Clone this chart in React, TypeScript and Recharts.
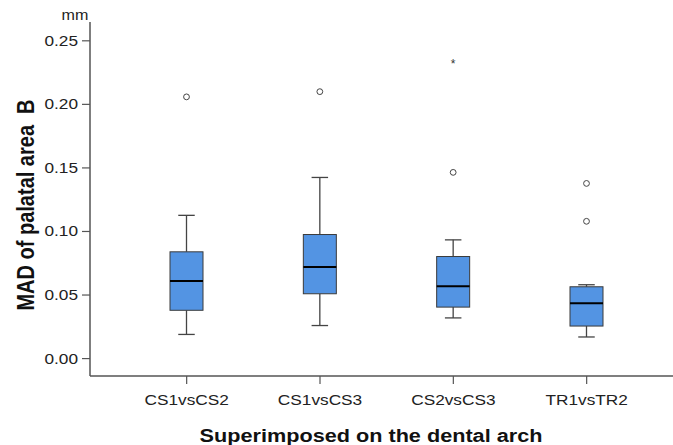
import { ComposedChart, Bar, XAxis, YAxis } from 'recharts'

const categories = ['CS1vsCS2', 'CS1vsCS3', 'CS2vsCS3', 'TR1vsTR2']
const whiskerLow = [0.019, 0.026, 0.032, 0.017]
const quartile1 = [0.038, 0.051, 0.0405, 0.0256]
const medians = [0.061, 0.072, 0.057, 0.0436]
const quartile3 = [0.084, 0.0976, 0.0803, 0.0565]
const whiskerHigh = [0.1127, 0.1425, 0.0934, 0.0581]
const outliers = [[0.2059], [0.21], [0.1465], [0.1378, 0.108]]
const extremes: number[][] = [[], [], [0.2323], []]
const yTicks = [0, 0.05, 0.1, 0.15, 0.2, 0.25]

const rows = categories.map((name, i) => ({
  name,
  box: [quartile1[i], quartile3[i]],
  low: whiskerLow[i],
  q1: quartile1[i],
  med: medians[i],
  q3: quartile3[i],
  high: whiskerHigh[i],
  outliers: outliers[i],
  extremes: extremes[i],
}))

const FONT = '"Liberation Sans", Arial, Helvetica, sans-serif'
// the source picture is a little wider than tall, so the text is stretched sideways
const STRETCH = 1.15

function BoxShape(props: any) {
  const { x, y, width, height, payload } = props
  const top = Math.min(y, y + height)
  const bottom = Math.max(y, y + height)
  // pixels per unit, taken from the box the library placed
  const k = (bottom - top) / (payload.q3 - payload.q1)
  const yOf = (v: number) => top + (payload.q3 - v) * k
  const cx = x + width / 2
  const cap = width / 4
  const line = '#444'

  return (
    <g>
      <line x1={cx} x2={cx} y1={yOf(payload.high)} y2={top} stroke={line} strokeWidth={1.3} />
      <line x1={cx} x2={cx} y1={bottom} y2={yOf(payload.low)} stroke={line} strokeWidth={1.3} />
      <line x1={cx - cap} x2={cx + cap} y1={yOf(payload.high)} y2={yOf(payload.high)} stroke={line} strokeWidth={1.3} />
      <line x1={cx - cap} x2={cx + cap} y1={yOf(payload.low)} y2={yOf(payload.low)} stroke={line} strokeWidth={1.3} />
      <rect x={x} y={top} width={width} height={bottom - top} fill="#5394E3" stroke="#3a3a3a" strokeWidth={1} />
      <line x1={x} x2={x + width} y1={yOf(payload.med)} y2={yOf(payload.med)} stroke="#000" strokeWidth={2} />
      {payload.outliers.map((v: number, i: number) => (
        <circle key={'o' + i} cx={cx} cy={yOf(v)} r={2.9} fill="#fff" stroke={line} strokeWidth={1} />
      ))}
      {payload.extremes.map((v: number, i: number) => (
        <text key={'e' + i} x={cx} y={yOf(v) + 5} textAnchor="middle" fontSize={12} fontFamily={FONT} fill="#333">
          *
        </text>
      ))}
    </g>
  )
}

function XTick(props: any) {
  const { x, y, payload } = props
  return (
    <text
      transform={`translate(${x},${y}) scale(${STRETCH},1)`}
      dy={10}
      textAnchor="middle"
      fontSize={15}
      fontFamily={FONT}
      fill="#222"
    >
      {payload.value}
    </text>
  )
}

function YTick(props: any) {
  const { x, y, payload } = props
  return (
    <text
      transform={`translate(${x},${y}) scale(${STRETCH},1)`}
      dy={5}
      textAnchor="end"
      fontSize={15}
      fontFamily={FONT}
      fill="#222"
    >
      {Number(payload.value).toFixed(2)}
    </text>
  )
}

function YTitle() {
  return (
    <g>
      <text
        transform={`translate(33.5, 205) scale(${STRETCH},1) rotate(-90)`}
        textAnchor="middle"
        fontSize={20}
        fontWeight={700}
        fontFamily={FONT}
        fill="#111"
        style={{ whiteSpace: 'pre' }}
      >
        MAD of palatal area  B
      </text>
      <text
        transform={`translate(75, 20) scale(${STRETCH},1)`}
        textAnchor="middle"
        fontSize={14}
        fontFamily={FONT}
        fill="#222"
      >
        mm
      </text>
    </g>
  )
}

function XTitle() {
  return (
    <text
      transform={`translate(371, 441.5) scale(1.14,1)`}
      textAnchor="middle"
      fontSize={19}
      fontWeight={700}
      fontFamily={FONT}
      fill="#111"
    >
      Superimposed on the dental arch
    </text>
  )
}

export default function App() {
  return (
    <div style={{ width: 673, height: 445, background: '#fff' }}>
      <style>{'body{margin:0}'}</style>
      <ComposedChart
        width={673}
        height={445}
        data={rows}
        margin={{ top: 22, right: 0, bottom: 0, left: 0 }}
      >
        <XAxis
          dataKey="name"
          height={69}
          padding={{ left: 30, right: 19.67 }}
          tickSize={8}
          tickMargin={11}
          tick={<XTick />}
          axisLine={{ stroke: '#555', strokeWidth: 1.5 }}
          tickLine={{ stroke: '#555', strokeWidth: 1.2 }}
          label={<XTitle />}
        />
        <YAxis
          type="number"
          width={90}
          domain={[-0.0137, 0.2648]}
          allowDataOverflow
          ticks={yTicks}
          tickSize={8}
          tickMargin={4}
          tick={<YTick />}
          axisLine={{ stroke: '#555', strokeWidth: 1.5 }}
          tickLine={{ stroke: '#555', strokeWidth: 1.2 }}
          label={<YTitle />}
        />
        <Bar dataKey="box" barSize={33} shape={<BoxShape />} isAnimationActive={false} />
      </ComposedChart>
    </div>
  )
}
